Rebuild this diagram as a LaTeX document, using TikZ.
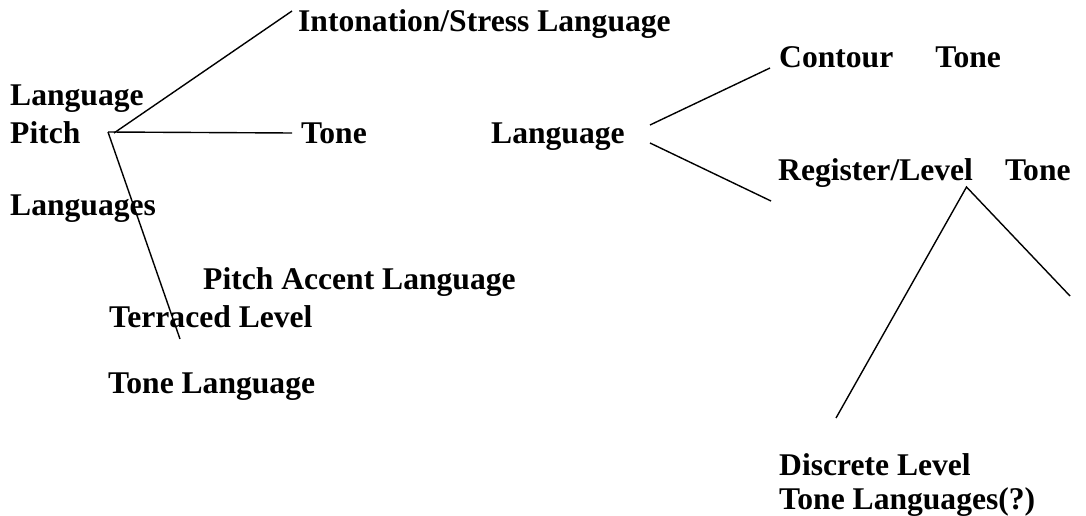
\documentclass[tikz,border=0pt]{standalone}
\usepackage{fontspec}
\setmainfont{Liberation Serif}
\begin{document}
\begin{tikzpicture}[x=1pt,y=-1pt,
  lbl/.style={anchor=base west,inner sep=0pt,font=\fontsize{31.6}{38}\selectfont\bfseries},
  ln/.style={line width=1.4pt,line cap=butt}]
\useasboundingbox (0,0) rectangle (1086,516);
% texts
\node[lbl] (into) at (298,32) {Intonation/Stress Language};
\node[lbl] (lang1) at (10,106) {Language};
\node[lbl] (pitch) at (10,143) {Pitch};
\node[lbl] (langs) at (10,215) {Languages};
\node[lbl] (tone) at (301,143) {Tone};
\node[lbl] (lang2) at (491,143) {Language};
\node[lbl] (cont) at (779,68) {Contour\hspace{42pt}Tone};
\node[lbl] (reg) at (778,180) {Register/Level\hspace{32pt}Tone};
\node[lbl] (pacc) at (203,289) {Pitch Accent Language};
\node[lbl] (terr) at (109,327) {Terraced Level};
\node[lbl] (tlang) at (108,393) {Tone Language};
\node[lbl] (disc) at (779,475) {Discrete Level};
\node[lbl] (tlangs) at (779,509) {Tone Languages(?)};
% connector end points
\coordinate (pA) at (114,133);
\coordinate (pB) at (108,132);
\coordinate (eInto) at (292,11);
\coordinate (eTone) at (292,133);
\coordinate (eDown) at (180,339);
\coordinate (m1) at (650,125);
\coordinate (m2) at (650,143);
\coordinate (eCont) at (770,68);
\coordinate (eReg) at (771,201);
\coordinate (apex) at (966.5,187);
\coordinate (eL) at (836,418);
\coordinate (eR) at (1070,296);
% connectors
\draw[ln] (pA) -- (eInto);
\draw[ln] (pB) -- (eTone);
\draw[ln] (pB) -- (eDown);
\draw[ln] (m1) -- (eCont);
\draw[ln] (m2) -- (eReg);
\draw[ln] (eL) -- (apex) -- (eR);
\end{tikzpicture}
\end{document}
